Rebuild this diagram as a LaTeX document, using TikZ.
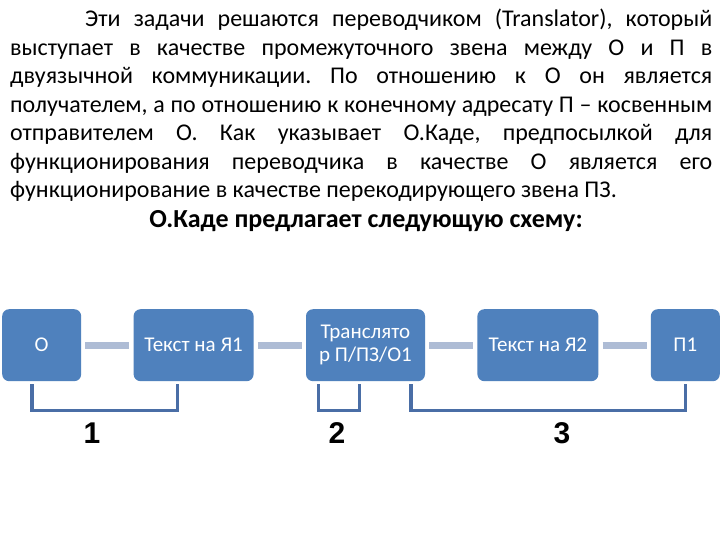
\documentclass[tikz,border=0pt]{standalone}
\usepackage{fontspec}
\setmainfont{Carlito}
\newfontfamily\digitfont{Liberation Sans}
\usepackage{xcolor}
\usetikzlibrary{positioning}
\definecolor{boxblue}{HTML}{4F81BD}
\definecolor{linkblue}{HTML}{AEBCD5}
\definecolor{brkblue}{HTML}{4A6EA6}

\begin{document}
\begin{tikzpicture}[x=1pt,y=1pt,node distance=52pt,
  box/.style={draw=none,fill=boxblue,rounded corners=7pt,minimum height=72pt,
    text=white,align=center,inner sep=2pt,font=\fontsize{21}{23}\selectfont},
  link/.style={linkblue,line width=7pt,shorten <=4pt,shorten >=4pt},
  brk/.style={brkblue,line width=3.5pt},
  num/.style={anchor=base,inner sep=0pt,font=\digitfont\bfseries\fontsize{30}{30}\selectfont}]
\useasboundingbox[fill=white] (0,0) rectangle (720,-540);
% text above the scheme
\node[anchor=north west,inner sep=0pt,text width=702pt,align=justify,
  font=\fontsize{24}{28.5}\selectfont] (para) at (10,-9) {\hyphenpenalty=10000\frenchspacing
  \hspace*{75pt}Эти задачи решаются переводчиком (Translator), который\linebreak
  выступает в качестве промежуточного звена между О и П в\linebreak
  двуязычной коммуникации. По отношению к О он является\linebreak
  получателем, а по отношению к конечному адресату П – косвенным\linebreak
  отправителем О. Как указывает О.Каде, предпосылкой для\linebreak
  функционирования переводчика в качестве О является его\linebreak
  функционирование в качестве перекодирующего звена ПЗ.};
\node[anchor=base,inner sep=0pt,font=\bfseries\fontsize{26}{28.5}\selectfont] (title) at (366,-228) {О.Каде предлагает следующую схему:};
% scheme
\node[box,minimum width=79pt,anchor=north west] (o) at (2,-309) {О};
\node[box,minimum width=120pt,right=of o] (t1) {Текст на Я1};
\node[box,minimum width=119pt,right=of t1] (tr) {Транслято\\р П/ПЗ/О1};
\node[box,minimum width=121pt,right=of tr] (t2) {Текст на Я2};
\node[box,minimum width=69pt,right=of t2] (p1) {П1};
\draw[link] (o) -- (t1);
\draw[link] (t1) -- (tr);
\draw[link] (tr) -- (t2);
\draw[link] (t2) -- (p1);
% brackets
\draw[brk] ([shift={(-9.5pt,-3pt)}]o.south) -- ++(0,-26pt) -| ([shift={(-16pt,-3pt)}]t1.south);
\draw[brk] ([shift={(-47pt,-3pt)}]tr.south) -- ++(0,-26pt) -| ([shift={(-6pt,-3pt)}]tr.south);
\draw[brk] ([shift={(45.5pt,-3pt)}]tr.south) -- ++(0,-26pt) -| ([shift={(0pt,-3pt)}]p1.south);
\node[num] (n1) at (92,-443) {1};
\node[num] (n2) at (337,-443) {2};
\node[num] (n3) at (562,-443) {3};
\end{tikzpicture}
\end{document}
